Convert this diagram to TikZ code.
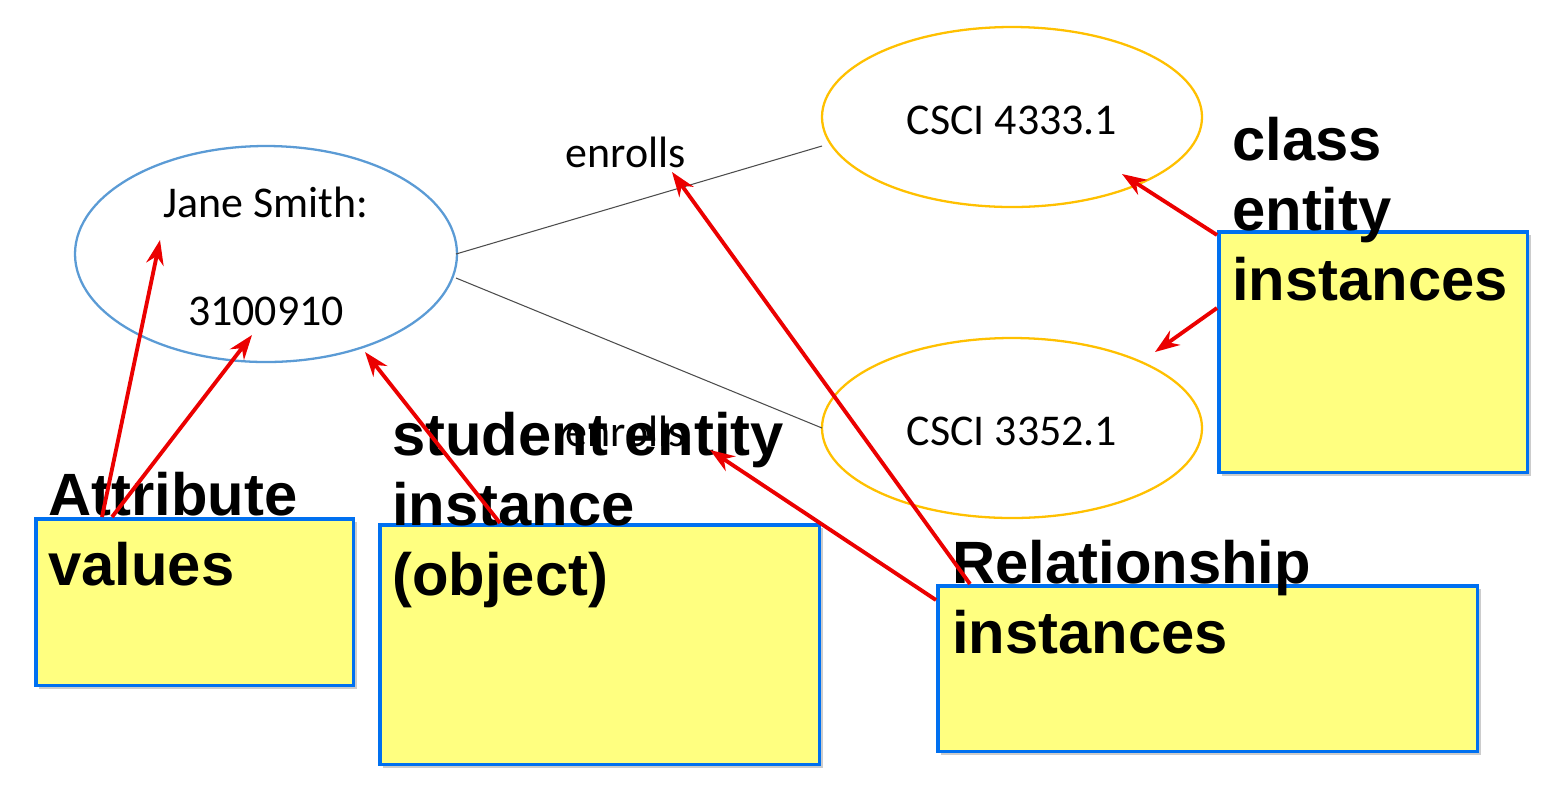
\documentclass[tikz,border=0pt]{standalone}
\usepackage{fontspec}
\setmainfont{Carlito}
\newfontfamily\boxfont{Liberation Sans}
\usetikzlibrary{arrows.meta,shadows}
\definecolor{eblue}{RGB}{91,155,213}
\definecolor{eorange}{RGB}{255,192,0}
\definecolor{byellow}{RGB}{255,255,128}
\definecolor{bborder}{RGB}{0,112,240}
\definecolor{ared}{RGB}{235,0,0}
\begin{document}
\begin{tikzpicture}[x=0.02cm,y=-0.02cm,
  ent/.style={draw=#1,line width=1.3pt},
  lbl/.style={font=\fontsize{25}{30}\selectfont},
  note/.style={draw=bborder,line width=2pt,fill=byellow,anchor=north west,
    inner sep=0pt,
    drop shadow={shadow xshift=2pt,shadow yshift=-2pt,fill=black!40}},
  ntext/.style={anchor=base west,align=left,inner sep=0pt,
    font=\boxfont\bfseries\fontsize{34}{39.7}\selectfont},
  arr/.style={draw=ared,line width=2.2pt,-{Stealth[length=14pt,width=10pt]}},
  rel/.style={draw=black!70,line width=0.6pt}]
\useasboundingbox (0,0) rectangle (1545,796);
\draw[ent=eblue] (266,254) ellipse [x radius=191,y radius=108];
\draw[ent=eorange] (1012,117) ellipse [x radius=190,y radius=90];
\draw[ent=eorange] (1012,428) ellipse [x radius=190,y radius=90];
\node[lbl] (jane) at (266,202) {Jane Smith:};
\node[lbl] (id) at (266,311) {3100910};
\node[lbl] (c1) at (1012,120) {CSCI 4333.1};
\node[lbl] (c2) at (1012,431) {CSCI 3352.1};
\node[lbl] (e1) at (626,152) {enrolls};
\node[lbl] (e2) at (626,431) {enrolls};
\coordinate (j1) at (456,254); \coordinate (j2) at (456,278);
\coordinate (k1) at (822,146); \coordinate (k2) at (822,428);
\draw[rel] (j1) -- (k1);
\draw[rel] (j2) -- (k2);
\node[note,minimum width=6.36cm,minimum height=3.34cm] (attr) at (34,517) {};
\node[note,minimum width=8.8cm,minimum height=4.8cm] (stud) at (378,523) {};
\node[note,minimum width=10.8cm,minimum height=3.32cm] (relb) at (936,584) {};
\node[note,minimum width=6.18cm,minimum height=4.82cm] (cls) at (1217,230) {};
\node[ntext] (attrt) at (48,585) {Attribute\\values};
\node[ntext] (studt) at (392,595) {student entity\\instance\\(object)};
\node[ntext] (relt) at (952,653) {Relationship\\instances};
\node[ntext] (clst) at (1232,300) {class\\entity\\instances};
\coordinate (a1) at (102,517); \coordinate (t1) at (160,240);
\coordinate (a2) at (112,517); \coordinate (t2) at (252,335);
\coordinate (s1) at (500,523); \coordinate (t3) at (365,352);
\coordinate (r1) at (970,584); \coordinate (t4) at (672,172);
\coordinate (r2) at (936,600); \coordinate (t5) at (710,450);
\coordinate (c1s) at (1217,235); \coordinate (t6) at (1122,174);
\coordinate (c2s) at (1217,308); \coordinate (t7) at (1155,352);
\draw[arr] (a1) -- (t1);
\draw[arr] (a2) -- (t2);
\draw[arr] (s1) -- (t3);
\draw[arr] (r1) -- (t4);
\draw[arr] (r2) -- (t5);
\draw[arr] (c1s) -- (t6);
\draw[arr] (c2s) -- (t7);
\end{tikzpicture}
\end{document}
